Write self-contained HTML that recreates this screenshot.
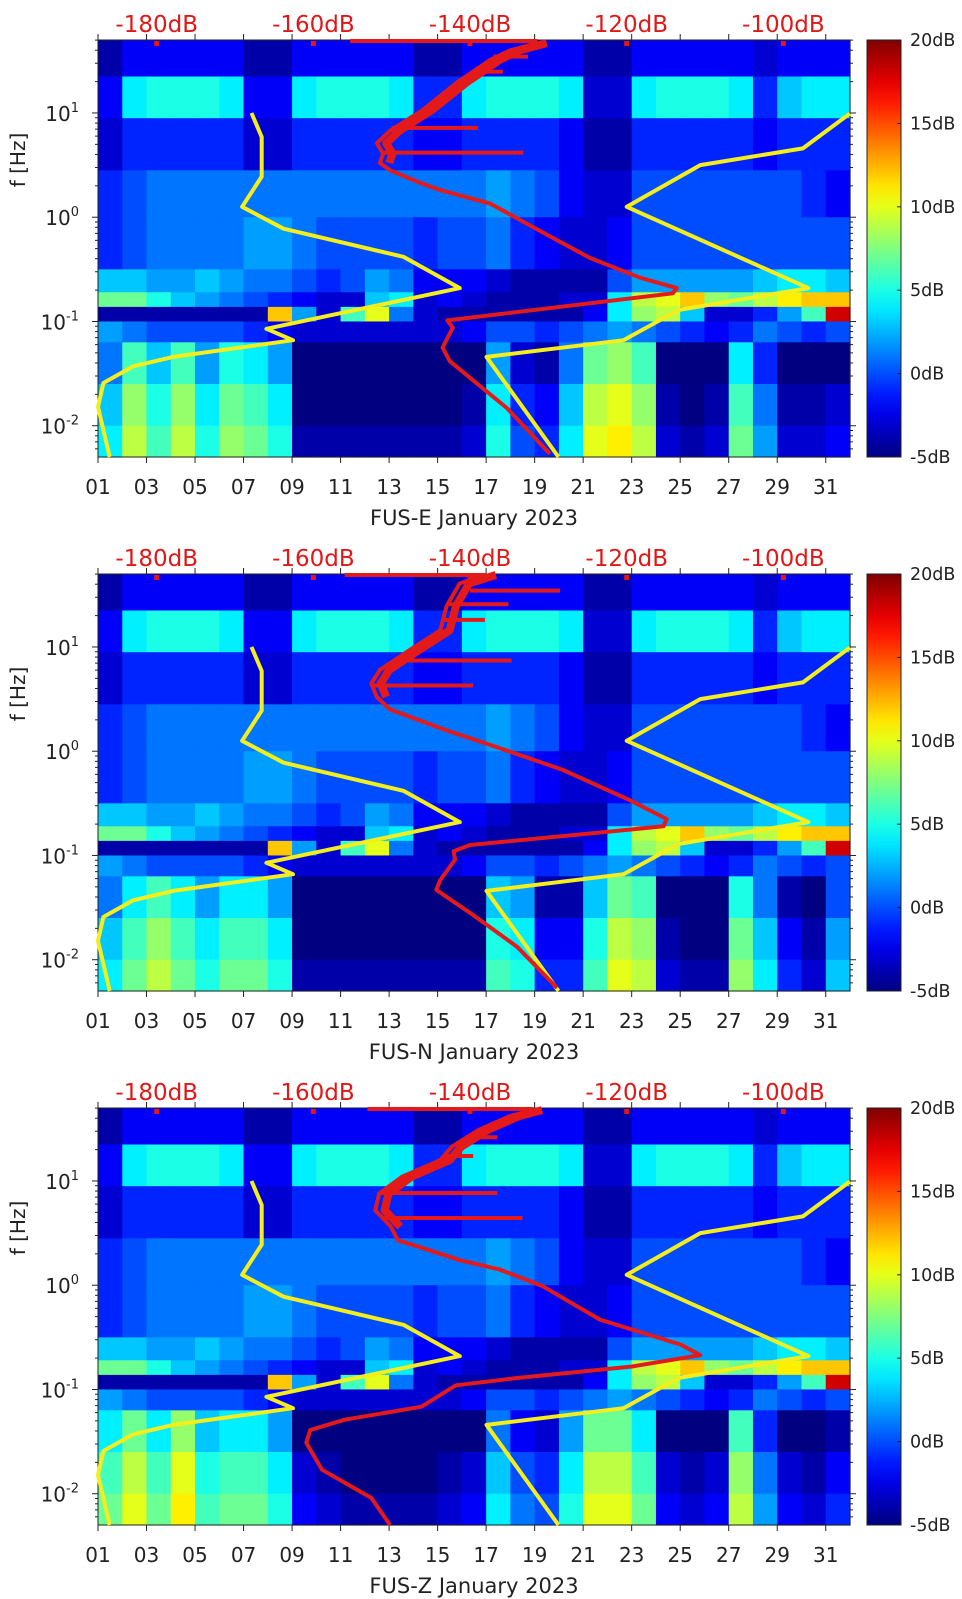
<!DOCTYPE html>
<html><head><meta charset="utf-8"><title>FUS spectrograms January 2023</title>
<style>
html,body{margin:0;padding:0;background:#fff;}
svg{display:block;font-family:"DejaVu Sans","Liberation Sans",sans-serif;}
</style></head>
<body>
<svg id="fig" xmlns="http://www.w3.org/2000/svg" width="962" height="1599" viewBox="0 0 962 1599">
<rect x="0" y="0" width="962" height="1599" fill="#ffffff"/>
</svg>
<script>
// ---------- data ----------
const panelNames = ['FUS-E', 'FUS-N', 'FUS-Z'];
const xTickDays = [1,3,5,7,9,11,13,15,17,19,21,23,25,27,29,31];
const xTickLabels = ['01','03','05','07','09','11','13','15','17','19','21','23','25','27','29','31'];
const dbTicks = [-180,-160,-140,-120,-100];
const dbTickLabels = ['-180dB','-160dB','-140dB','-120dB','-100dB'];
const yDecades = [1,0,-1,-2];
const cbTicks = [20,15,10,5,0,-5];
const cbTickLabels = ['20dB','15dB','10dB','5dB','0dB','-5dB'];
// log10(f) band edges, top to bottom
const freqEdges = [1.7,1.35,0.95,0.45,0,-0.5,-0.72,-0.86,-1.0,-1.2,-1.6,-2.0,-2.3];
// per-day PSD relative level (dB), days 1..31
const row0 = [-4,-2,-2,-2,-2,-2,-4,-4,-2,-2,-2,-2,-2,-4,-4,-2,-2,-2,-2,-2,-4,-4,-2,-2,-2,-2,-2,-3,-2,-2,-2];
const row1 = [-2,4,5,5,5,4,-2,-2,4,5,5,5,4,-1,-1,4,5,5,5,4,-3,-3,4,5,5,5,4,-1,3,4,4];
const row2 = [-3,-1,-1,-1,-1,-1,-3,-3,-1,-1,-1,-1,-1,-2,-2,-1,-1,-1,-1,-2,-4,-4,-1,-1,-1,-1,-1,-2,-1,-1,-1];
const row3 = [-1,0,1,1,1,1,1,1,1,1,1,1,1,1,1,1,2,1,0,-2,-3,-3,0,0,0,0,0,0,0,-1,-2];
const row4 = [-1,0,1,1,1,1,2,2,1,0,0,0,0,-1,0,0,1,-1,-2,-3,-3,-2,0,0,0,0,0,0,0,0,0];
const row5 = [3,3,2,2,3,2,1,1,0,-1,0,2,1,-2,-2,-2,-3,-4,-4,-4,-4,0,2,2,2,2,2,3,4,4,3];
const row6 = [7,7,5,3,2,1,0,-1,-2,-3,-3,3,4,-3,-2,-3,-4,-4,-4,-3,-3,4,9,10,12,8,7,9,11,12,12];
const row7 = [-4,-4,-4,-4,-4,-4,-4,12,2,-3,6,10,1,-3,-4,-4,-4,-4,-4,-4,-2,4,8,9,3,-3,-3,-1,2,6,18];
const row8 = [2,1,0,0,0,0,-1,-2,-3,-3,-3,-3,-3,-3,-3,-2,0,0,-1,0,1,2,1,0,-1,-2,-1,1,0,-1,0];
const lowP1 = [3,8,5,8,4,7,6,4,-5,-5,-5,-5,-5,-5,-5,-4,4,-1,-2,3,9,10,8,-4,-5,-4,6,1,-4,-4,-3];
const lowP2 = [3,6,8,6,4,6,6,4,-5,-5,-5,-5,-5,-5,-5,-5,5,4,-2,-2,5,9,8,-4,-5,-5,7,3,-2,-4,2];
const lowP3 = [6,9,6,10,5,6,6,4,-3,-4,-5,-5,-5,-5,-4,-3,3,0,-1,4,9,9,6,-3,-4,-3,8,1,-3,-4,-2];
const lowRowAdjust = [-2,0,1];
// Peterson low / high noise models (dB, log10 f)
const nlnmDb = [-186.0,-187.5,-186.8,-183.0,-177.9,-162.6,-166.0,-141.3,-148.5,-163.8,-169.1,-166.6,-166.6,-167.9];
const nlnmLogF = [-2.30,-1.82,-1.59,-1.43,-1.34,-1.18,-1.07,-0.68,-0.38,-0.11,0.10,0.39,0.77,1.0];
const nhnmDb = [-128.7,-137.9,-120.4,-113.4,-96.8,-120.0,-110.6,-97.5,-91.5];
const nhnmLogF = [-2.30,-1.34,-1.18,-0.89,-0.68,0.10,0.50,0.66,0.995];
// station PSD curves
const red1Db = [-129.8,-135.3,-142.6,-143.5,-142.2,-142.9,-114.1,-113.6,-118.3,-124.7,-131.1,-137.4,-143.8,-146.4,-150.2,-151.5,-151.1,-151.9,-150.2,-146.0,-141.7,-137.4,-134.9,-131.4];
const red1LogF = [-2.27,-1.83,-1.38,-1.25,-1.06,-0.99,-0.73,-0.68,-0.58,-0.39,-0.13,0.13,0.26,0.33,0.45,0.52,0.61,0.71,0.83,1.03,1.29,1.51,1.60,1.67];
const red1TopDb = [-155.3,-131.4];
const red1SpikeLogF = [0.62,0.857,1.395,1.54];
const red1SpikeFromDb = [-151,-150,-139.5,-137];
const red1SpikeToDb = [-133.2,-139.0,-135.8,-132.6];
const red2Db = [-128.9,-134.0,-140.0,-144.3,-143.8,-141.9,-142.1,-140.0,-115.3,-114.9,-119.6,-128.1,-136.6,-143.0,-150.2,-151.9,-152.6,-151.5,-147.7,-143.8,-143.0,-141.3,-137.9];
const red2LogF = [-2.27,-1.875,-1.55,-1.33,-1.235,-1.04,-0.96,-0.90,-0.72,-0.65,-0.47,-0.18,0.04,0.20,0.40,0.52,0.65,0.78,0.97,1.16,1.39,1.61,1.69];
const red2TopDb = [-156,-137.9];
const red2SpikeLogF = [1.54,1.41,1.26,0.87,0.63];
const red2SpikeFromDb = [-140,-143,-143.5,-149.5,-152.5];
const red2SpikeToDb = [-128.5,-135.1,-138.1,-134.7,-139.6];
const red3Db = [-150.2,-152.6,-158.9,-160.9,-160.4,-156.0,-146.2,-143.3,-141.8,-134.0,-119.3,-110.6,-113.1,-123.4,-130.7,-136.2,-141.3,-146.2,-149.2,-150.1,-152.1,-151.6,-148.7,-143.8,-142.3,-138.9,-135.0,-132.0];
const red3LogF = [-2.3,-2.04,-1.77,-1.51,-1.39,-1.29,-1.165,-1.03,-0.96,-0.89,-0.78,-0.67,-0.57,-0.33,-0.01,0.15,0.24,0.36,0.43,0.56,0.72,0.88,1.04,1.20,1.33,1.49,1.62,1.68];
const red3TopDb = [-153.1,-132.0];
const red3SpikeLogF = [0.885,0.645,1.42,1.24];
const red3SpikeFromDb = [-151.6,-151.2,-140.6,-143.3];
const red3SpikeToDb = [-136.5,-133.3,-136.5,-139.6];

// ---------- rendering ----------
const NS = 'http://www.w3.org/2000/svg';
const svg = document.getElementById('fig');
const X0 = 98, X1 = 850, PH = 417, LF_TOP = 1.7, LF_BOT = -2.3;
const panelTops = [40, 574, 1108];
const CB_X = 867, CB_W = 34, CMIN = -5, CMAX = 20;
function xDay(d){ return X0 + (d - 1) * (X1 - X0) / 31; }
function xDb(db){ return 156.7 + (db + 180) * 7.833; }
function yLogF(top, lf){ return top + (LF_TOP - lf) * PH / (LF_TOP - LF_BOT); }
function jet(v){
  let t = (v - CMIN) / (CMAX - CMIN); t = Math.max(0, Math.min(1, t));
  const c = x => Math.round(255 * Math.max(0, Math.min(1, x)));
  return 'rgb(' + c(1.5 - Math.abs(4*t - 3)) + ',' + c(1.5 - Math.abs(4*t - 2)) + ',' + c(1.5 - Math.abs(4*t - 1)) + ')';
}
function el(tag, attrs, parent){
  const e = document.createElementNS(NS, tag);
  for (const k in attrs) e.setAttribute(k, attrs[k]);
  (parent || svg).appendChild(e);
  return e;
}
const upperRows = [row0,row1,row2,row3,row4,row5,row6,row7,row8];
const lowSets = [lowP1, lowP2, lowP3];
const redSets = [
  [red1Db, red1LogF, red1TopDb, red1SpikeLogF, red1SpikeFromDb, red1SpikeToDb],
  [red2Db, red2LogF, red2TopDb, red2SpikeLogF, red2SpikeFromDb, red2SpikeToDb],
  [red3Db, red3LogF, red3TopDb, red3SpikeLogF, red3SpikeFromDb, red3SpikeToDb]
];

const defs = el('defs', {});
const grad = el('linearGradient', {id:'jetgrad', x1:'0', y1:'1', x2:'0', y2:'0'}, defs);
for (let i = 0; i <= 20; i++) {
  el('stop', {offset: (i/20).toFixed(3), 'stop-color': jet(CMIN + (CMAX - CMIN) * i / 20)}, grad);
}

panelTops.forEach((top, p) => {
  const g = el('g', {});
  
  
  const hm = el('g', {}, g);
  
  
  const rows = upperRows.slice();
  for (let r = 0; r < 3; r++) rows.push(lowSets[p].map(v => v + lowRowAdjust[r]));
  rows.forEach((vals, r) => {
    const y0 = yLogF(top, freqEdges[r]), y1 = yLogF(top, freqEdges[r+1]);
    vals.forEach((v, i) => {
      const c = el('rect', {x: xDay(i+1).toFixed(2), y: y0.toFixed(2), width: ((X1-X0)/31 + 0.6).toFixed(2), height: (y1 - y0 + 0.6).toFixed(2), fill: jet(v)}, hm);
      
      
    });
  });
  const fr = el('rect', {x: X0, y: top, width: X1 - X0, height: PH, fill: 'none', stroke: '#222', 'stroke-width': 1}, g);
  
  
  const bottom = top + PH;
  xTickDays.forEach((d, i) => {
    const x = xDay(d);
    const tb = el('line', {x1: x, y1: bottom, x2: x, y2: bottom + 6, stroke: '#222', 'stroke-width': 1}, g);
    
    
    const tt = el('line', {x1: x, y1: top, x2: x, y2: top - 6, stroke: '#222', 'stroke-width': 1}, g);
    
    
    const lb = el('text', {x: x, y: bottom + 37, 'font-size': 20, fill: '#222', 'text-anchor': 'middle'}, g);
    lb.textContent = xTickLabels[i];
    
    
  });
  const xt = el('text', {x: (X0 + X1)/2, y: bottom + 68, 'font-size': 21, fill: '#222', 'text-anchor': 'middle'}, g);
  xt.textContent = panelNames[p] + ' January 2023';
  
  
  for (let dec = -3; dec <= 1; dec++) {
    for (let k = 1; k <= 9; k++) {
      const lf = dec + Math.log10(k);
      if (lf < LF_BOT || lf > LF_TOP) continue;
      const y = yLogF(top, lf), len = k === 1 ? 6 : 3;
      const tl = el('line', {x1: X0, y1: y, x2: X0 - len, y2: y, stroke: '#222', 'stroke-width': 1}, g);
      
      
      const tr = el('line', {x1: X1, y1: y, x2: X1 + len, y2: y, stroke: '#222', 'stroke-width': 1}, g);
      
      
    }
  }
  yDecades.forEach(dec => {
    const y = yLogF(top, dec);
    const t = el('text', {x: 62, y: y + 8, 'font-size': 20, fill: '#222', 'text-anchor': 'end'}, g);
    
    
    const b = el('tspan', {}, t); b.textContent = '10';
    const s = el('tspan', {dy: -9, 'font-size': 13}, t); s.textContent = String(dec);
    t.setAttribute('x', 79);
  });
  const yt = el('text', {x: 0, y: 0, 'font-size': 20, fill: '#222', 'text-anchor': 'middle', transform: 'translate(25,' + (top + 120) + ') rotate(-90)'}, g);
  yt.textContent = 'f [Hz]';
  
  
  dbTicks.forEach((db, i) => {
    const x = xDb(db);
    const m = el('rect', {x: x - 2.5, y: top + 1, width: 5, height: 5, fill: '#e01818'}, g);
    
    
    const t = el('text', {x: x, y: top - 8, 'font-size': 23, fill: '#e01818', 'text-anchor': 'middle'}, g);
    t.textContent = dbTickLabels[i];
    
    
  });
  const poly = (dbs, lfs) => dbs.map((d, i) => xDb(d).toFixed(1) + ',' + yLogF(top, lfs[i]).toFixed(1)).join(' ');
  const nl = el('polyline', {points: poly(nlnmDb, nlnmLogF), fill: 'none', stroke: '#f4ee1c', 'stroke-width': 4, 'stroke-linejoin': 'round'}, g);
  
  
  const nh = el('polyline', {points: poly(nhnmDb, nhnmLogF), fill: 'none', stroke: '#f4ee1c', 'stroke-width': 4, 'stroke-linejoin': 'round'}, g);
  
  
  const [rDb, rLf, rTop, sLf, sFrom, sTo] = redSets[p];
  const rl = el('polyline', {points: poly(rDb, rLf), fill: 'none', stroke: '#e41a1a', 'stroke-width': 4, 'stroke-linejoin': 'round'}, g);
  
  
  const upIdx = rLf.map((v, i) => i).filter(i => rLf[i] > 0.5);
  const rt = el('polyline', {points: poly(upIdx.map(i => rDb[i] + 1.2), upIdx.map(i => rLf[i])), fill: 'none', stroke: '#e41a1a', 'stroke-width': 8, 'stroke-linejoin': 'round'}, g);
  
  
  const th = el('line', {x1: xDb(rTop[0]), y1: top + 1, x2: xDb(rTop[1]), y2: top + 1, stroke: '#e41a1a', 'stroke-width': 4}, g);
  
  
  sLf.forEach((lf, i) => {
    const y = yLogF(top, lf);
    const s = el('line', {x1: xDb(sFrom[i]), y1: y, x2: xDb(sTo[i]), y2: y, stroke: '#e41a1a', 'stroke-width': 4}, g);
    
    
  });
  const cb = el('rect', {x: CB_X, y: top, width: CB_W, height: PH, fill: 'url(#jetgrad)', stroke: '#222', 'stroke-width': 1}, g);
  
  
  cbTicks.forEach((v, i) => {
    const y = top + (CMAX - v) / (CMAX - CMIN) * PH;
    const tk = el('line', {x1: CB_X + CB_W - 4, y1: y, x2: CB_X + CB_W, y2: y, stroke: '#222', 'stroke-width': 1}, g);
    
    
    const t = el('text', {x: 910, y: y + 6, 'font-size': 17.5, fill: '#222'}, g);
    t.textContent = cbTickLabels[i];
    
    
  });
});
</script>
</body></html>
